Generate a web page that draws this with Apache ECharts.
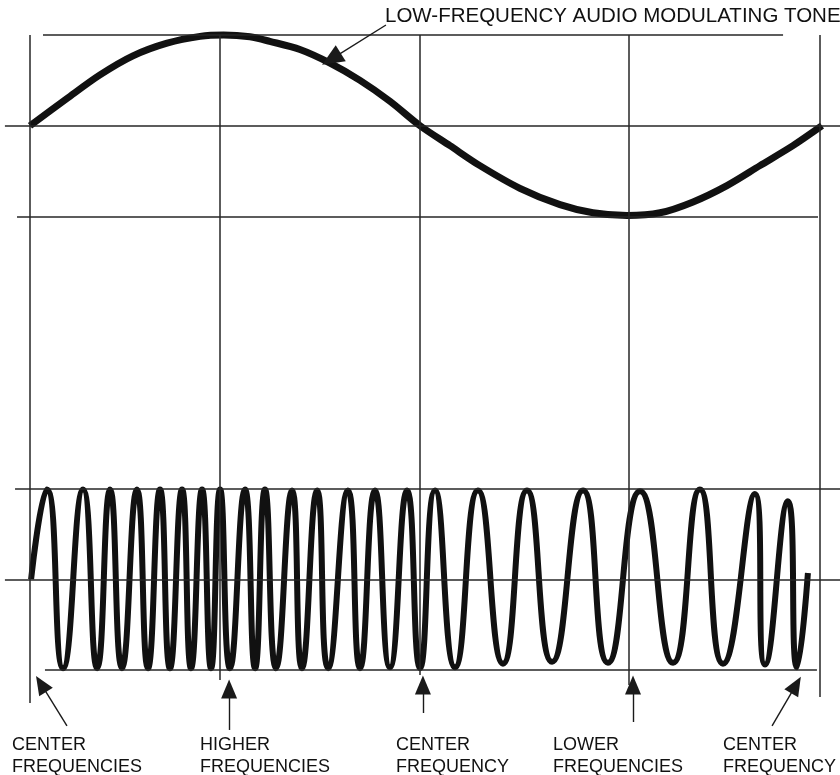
<!DOCTYPE html>
<html>
<head>
<meta charset="utf-8">
<title>FM</title>
<script src="https://cdn.jsdelivr.net/npm/echarts@6/dist/echarts.min.js"></script>
<style>
html, body { margin: 0; padding: 0; background: #fff; }
#fm { width: 840px; height: 775px; }
</style>
</head>
<body>
<div id="fm"></div>
<script>
// modulating tone, phase in degrees / level
var tonePhase = [0, 16.8, 31.8, 46.8, 62.3, 77.3, 88, 100, 109, 122.7, 136.4, 150, 163.6, 177.3,
  190.9, 204.5, 222.7, 240.9, 255.9, 271.4, 286.4, 301.4, 316.8, 331.8, 346.8, 360];
var toneLevel = [0, 0.30, 0.56, 0.77, 0.91, 0.985, 1.0, 0.98, 0.93, 0.84, 0.69, 0.5, 0.27, 0,
  -0.22, -0.44, -0.69, -0.87, -0.96, -0.99, -0.96, -0.84, -0.66, -0.44, -0.22, 0];

// FM carrier: crests and troughs (phase of the tone where they sit)
var fmPhase = [0.5, 7.7, 15.0, 24.1, 30.5, 36.4, 41.8, 48.6, 53.6, 59.1, 63.6, 69.1, 73.2, 78.2, 82.3,
  86.4, 90.9, 97.7, 102.3, 106.8, 111.8, 119.1, 123.6, 130.5, 135.5, 144.5, 150.0, 156.8, 163.6,
  171.4, 177.3, 184.1, 193.2, 203.6, 215.0, 225.9, 237.3, 251.4, 262.7, 277.3, 292.3, 304.5,
  315.0, 329.5, 334.1, 344.5, 348.6, 353.6];
var fmLevel = [0,
  0.99, -0.98, 0.99, -0.98, 0.99, -0.98, 0.99, -0.98,
  0.99, -0.98, 0.99, -0.98, 0.99, -0.98, 0.99, -0.98,
  0.99, -0.98, 0.99, -0.98, 0.98, -0.98, 0.98, -0.98,
  0.98, -0.98, 0.98, -0.97, 0.98, -0.98, 0.98, -0.97,
  0.98, -0.93, 0.98, -0.91, 0.98, -0.92, 0.97, -0.92,
  0.99, -0.93, 0.94, -0.94, 0.86, -0.97,
  0.07];

// vertical rulings of the scope graticule
var gridPhase = [0, 86.4, 177.3, 272, 359];

var labels = [
  'CENTER\nFREQUENCIES', 'HIGHER\nFREQUENCIES', 'CENTER\nFREQUENCY',
  'LOWER\nFREQUENCIES', 'CENTER\nFREQUENCY'
];
var toneTitle = 'LOW-FREQUENCY AUDIO MODULATING TONE';

function pairs(xs, ys) {
  var out = [];
  for (var i = 0; i < xs.length; i++) out.push([xs[i], ys[i]]);
  return out;
}

// layout: 0 deg at x=30, 360 deg at x=822; one level unit = row height
var W = 840, H = 775;
var pxPerDeg = 792 / 360;
var row = (670 - 35) / 7;
var xMin = -30 / pxPerDeg, xMax = 360 + (W - 822) / pxPerDeg;

var rule = { color: '#262626', width: 1.5, type: 'solid' };
var pointer = { color: '#1a1a1a', width: 1.4, type: 'solid' };

function seg(x1, y1, x2, y2, style) {
  return [{ coord: [x1, y1], lineStyle: style }, { coord: [x2, y2] }];
}
function arrow(x1, y1, x2, y2, size) {
  return [{ coord: [x1, y1], lineStyle: pointer },
    { coord: [x2, y2], symbol: 'triangle', symbolSize: size || [16, 19] }];
}

// lower end of each vertical ruling
var rulingEnd = [-1.364, -1.11, -1.055, -1.165, -1.298];
var fmRules = [
  seg(-6.8, 1, xMax, 1, rule),
  seg(-11.4, 0, xMax, 0, rule),
  seg(6.8, -1, 357.7, -1, rule)
];
gridPhase.forEach(function (p, i) {
  fmRules.push(seg(p, 6, p, rulingEnd[i], rule));
});
fmRules.push(arrow(16.8, -1.617, 5.0, -1.154));
fmRules.push(arrow(90.5, -1.661, 90.5, -1.209));
fmRules.push(arrow(178.6, -1.474, 178.6, -1.165));
fmRules.push(arrow(274.1, -1.573, 274.1, -1.165));
fmRules.push(arrow(337.3, -1.617, 348.2, -1.165));

var toneRules = [
  seg(5.9, 1, 342.3, 1, rule),
  seg(-11.4, 0, xMax, 0, rule),
  seg(-5.9, -1, 358.2, -1, rule),
  arrow(161.8, 1.11, 137.0, 0.735, [19, 22])
];

var labelX = [12, 200, 396, 553, 723];
var graphics = [{
  type: 'text', left: 385, top: 6,
  style: { text: toneTitle, font: '20.5px "Liberation Sans"', fill: '#111' }
}];
labels.forEach(function (t, i) {
  graphics.push({
    type: 'text', left: labelX[i], top: 734,
    style: { text: t, font: '18px "Liberation Sans"', lineHeight: 22, fill: '#111' }
  });
});

var chart = echarts.init(document.getElementById('fm'));
chart.setOption({
  animation: false,
  backgroundColor: '#ffffff',
  grid: { left: 0, right: 0, top: 0, bottom: 0, containLabel: false },
  xAxis: { type: 'value', min: xMin, max: xMax, show: false },
  yAxis: [
    { type: 'value', min: -6 - 105 / row, max: 1 + 35 / row, show: false },
    { type: 'value', min: -1 - 105 / row, max: 6 + 35 / row, show: false }
  ],
  graphic: graphics,
  series: [
    {
      name: 'tone', type: 'line', yAxisIndex: 0,
      data: pairs(tonePhase, toneLevel),
      smooth: 0.3, showSymbol: false, silent: true,
      lineStyle: { color: '#111', width: 7 },
      markLine: {
        silent: true, animation: false, symbol: ['none', 'none'],
        label: { show: false }, emphasis: { disabled: true },
        data: toneRules
      }
    },
    {
      name: 'carrier', type: 'line', yAxisIndex: 1,
      data: pairs(fmPhase, fmLevel),
      smooth: 0.55, showSymbol: false, silent: true,
      lineStyle: { color: '#111', width: 6 },
      markLine: {
        silent: true, animation: false, symbol: ['none', 'none'],
        label: { show: false }, emphasis: { disabled: true },
        data: fmRules
      }
    }
  ]
});
</script>
</body>
</html>
